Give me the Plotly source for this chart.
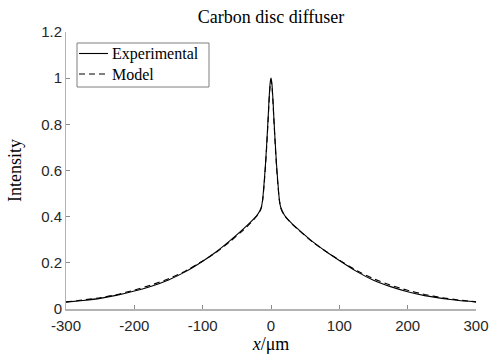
import plotly.graph_objects as go

x_exp = [-300, -275, -250, -225, -200, -175, -150, -125, -100, -80, -60, -40, -30, -20,
         -16, -14, -12, -10, -8, -6, -4, -3, -2, -1, 0, 1, 2, 3, 4, 6, 8, 10, 12, 14, 16, 20,
         30, 40, 60, 80, 100, 125, 150, 175, 200, 225, 250, 275, 300]
y_exp = [0.030, 0.037, 0.046, 0.060, 0.078, 0.099, 0.126, 0.162, 0.207, 0.248, 0.296, 0.348,
         0.376, 0.408, 0.428, 0.443, 0.48, 0.55, 0.63, 0.73, 0.84, 0.90, 0.95, 0.985, 1.00,
         0.985, 0.95, 0.90, 0.84, 0.73, 0.63, 0.55, 0.48, 0.443, 0.428, 0.405, 0.372, 0.345,
         0.294, 0.250, 0.210, 0.163, 0.125, 0.097, 0.075, 0.058, 0.046, 0.037, 0.031]

x_mod = [-300, -275, -250, -225, -200, -175, -150, -125, -100, -80, -60, -40, -30, -20,
         -16, -14, -12, -10, -8, -6, -4, -3, -2, -1, 0, 1, 2, 3, 4, 6, 8, 10, 12, 14, 16, 20,
         30, 40, 60, 80, 100, 125, 150, 175, 200, 225, 250, 275, 300]
y_mod = [0.031, 0.039, 0.049, 0.063, 0.082, 0.104, 0.131, 0.165, 0.208, 0.246, 0.292, 0.343,
         0.372, 0.405, 0.424, 0.440, 0.475, 0.54, 0.62, 0.72, 0.83, 0.89, 0.94, 0.975, 0.99,
         0.975, 0.94, 0.89, 0.83, 0.72, 0.62, 0.54, 0.475, 0.440, 0.424, 0.403, 0.370, 0.343,
         0.292, 0.250, 0.212, 0.167, 0.131, 0.103, 0.081, 0.063, 0.049, 0.039, 0.031]

series_names = ["Experimental", "Model"]

x_ticks = [-300, -200, -100, 0, 100, 200, 300]
y_ticks = [0, 0.2, 0.4, 0.6, 0.8, 1, 1.2]
y_tick_labels = ["0", "0.2", "0.4", "0.6", "0.8", "1", "1.2"]

W, H = 490, 358
ML, MR, MT, MB = 66, 14, 32, 49
PW, PH = W - ML - MR, H - MT - MB


def px(xp):
    return (xp - ML) / PW


def py(yp):
    return (H - MB - yp) / PH


DASH = "6px,4px"
fig = go.Figure()
fig.add_trace(go.Scatter(x=x_exp, y=y_exp, mode="lines", name=series_names[0], showlegend=False,
                         line=dict(color="black", width=1.1, shape="spline", smoothing=0.4)))
fig.add_trace(go.Scatter(x=x_mod, y=y_mod, mode="lines", name=series_names[1], showlegend=False,
                         line=dict(color="black", width=1.1, dash=DASH, shape="spline", smoothing=0.4)))

serif = "Liberation Serif, DejaVu Serif, serif"
sans = "Liberation Sans, Arial, sans-serif"

# manual legend box (layout decoration)
shapes = [
    dict(type="rect", xref="paper", yref="paper", x0=px(77), x1=px(209), y0=py(87), y1=py(43),
         line=dict(color="#7f7f7f", width=1), fillcolor="white", layer="above"),
]
annotations = []
rows = [53.5, 74]
dashes = ["solid", DASH]
for name, rowy, d in zip(series_names, rows, dashes):
    shapes.append(dict(type="line", xref="paper", yref="paper", x0=px(79), x1=px(108),
                       y0=py(rowy), y1=py(rowy), line=dict(color="black", width=1.1, dash=d),
                       layer="above"))
    annotations.append(dict(text=name, xref="paper", yref="paper", x=px(110), y=py(rowy),
                            xanchor="left", yanchor="middle", showarrow=False,
                            font=dict(family=serif, size=16, color="black")))

fig.update_layout(
    width=W, height=H,
    margin=dict(l=ML, r=MR, t=MT, b=MB, autoexpand=False),
    paper_bgcolor="white", plot_bgcolor="white",
    showlegend=False,
    shapes=shapes, annotations=annotations,
    title=dict(text="Carbon disc diffuser", x=0.553, xanchor="center", y=0.953, yanchor="middle",
               font=dict(family=serif, size=18, color="black")),
    xaxis=dict(range=[-300, 300], tickvals=x_ticks, ticktext=[str(v) for v in x_ticks],
               automargin=False, ticklabelstandoff=2,
               showgrid=False, zeroline=False, showline=True, linecolor="#b3b3b3", linewidth=2,
               ticks="inside", ticklen=4, tickcolor="#8c8c8c", tickwidth=1,
               tickfont=dict(family=sans, size=15, color="#262626"),
               title=dict(text="<i>x</i>/μm", font=dict(family=serif, size=18, color="black"), standoff=2)),
    yaxis=dict(range=[0, 1.2], tickvals=y_ticks, ticktext=y_tick_labels,
               automargin=False,
               showgrid=False, zeroline=False, showline=True, linecolor="#b3b3b3", linewidth=1,
               ticks="inside", ticklen=4, tickcolor="#8c8c8c", tickwidth=1,
               tickfont=dict(family=sans, size=15, color="#262626"),
               title=dict(text="Intensity", font=dict(family=serif, size=18, color="black"), standoff=14)),
)

fig.write_html("out.html")
